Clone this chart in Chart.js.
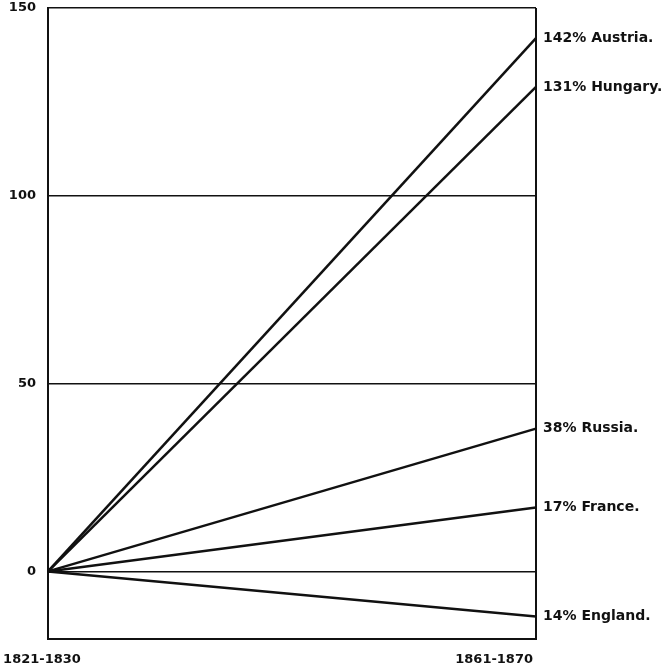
<!DOCTYPE html>
<html>
<head>
<meta charset="utf-8">
<script src="https://cdn.jsdelivr.net/npm/chart.js@4"></script>
<style>
  html, body { margin: 0; padding: 0; background: #fff; }
  #wrap { width: 667px; height: 667px; }
</style>
</head>
<body>
<div id="wrap"><canvas id="myChart"></canvas></div>
<script>
// periods on the x axis
const periods = ["1821-1830", "1861-1870"];
// countries, and where each line ends in the second period
const countries = ["Austria", "Hungary", "Russia", "France", "England"];
const startValues = [0, 0, 0, 0, 0];
const endValues = [142, 129, 38, 17, -12];
// the printed percentages next to each line
const percentLabels = ["142%", "131%", "38%", "17%", "14%"];
// y tick labels
const yTicks = [0, 50, 100, 150];

const ink = "#111";

// right-hand labels + period labels under the frame
const labelsPlugin = {
	id: "sideLabels",
	afterDraw(chart) {
		const ctx = chart.ctx;
		const x = chart.scales.x;
		const y = chart.scales.y;
		const area = chart.chartArea;
		ctx.save();
		ctx.fillStyle = ink;
		ctx.textBaseline = "middle";
		ctx.font = "bold 14px 'DejaVu Sans'";
		ctx.textAlign = "left";
		countries.forEach(function (c, i) {
			ctx.fillText(percentLabels[i] + " " + c + ".", area.right + 7, y.getPixelForValue(endValues[i]));
		});
		ctx.font = "bold 13px 'DejaVu Sans'";
		ctx.textAlign = "center";
		ctx.fillText(periods[0], x.getPixelForValue(0) - 6, 660);
		ctx.textAlign = "right";
		ctx.fillText(periods[1], x.getPixelForValue(1) - 3, 660);
		ctx.restore();
	},
};

const ctx = document.getElementById("myChart").getContext("2d");

const myChart = new Chart(ctx, {
	type: "line",
	data: {
		labels: periods,
		datasets: countries.map(function (c, i) {
			return {
				label: c,
				data: [startValues[i], endValues[i]],
				borderColor: ink,
				borderWidth: 2.5,
				pointRadius: 0,
				tension: 0,
			};
		}),
	},
	options: {
		responsive: true,
		maintainAspectRatio: false,
		animation: false,
		layout: {
			padding: { top: 8, right: 131, bottom: 28, left: 0 },
		},
		plugins: {
			legend: { display: false },
			tooltip: { enabled: false },
		},
		scales: {
			x: {
				type: "category",
				offset: false,
				ticks: { display: false },
				grid: { display: true, color: ink, lineWidth: 2, drawTicks: false },
				border: { display: true, color: ink, width: 2 },
			},
			y: {
				min: -18,
				max: 150,
				afterBuildTicks: function (axis) {
					axis.ticks = yTicks.map(function (v) { return { value: v }; });
				},
				afterFit: function (axis) {
					axis.width = 48;
					axis.paddingTop = 0;
					axis.paddingBottom = 0;
				},
				ticks: {
					color: ink,
					padding: 12,
					font: { family: "'DejaVu Sans'", size: 13, weight: "bold" },
				},
				grid: { color: ink, lineWidth: 1.5, drawTicks: false },
				border: { display: true, color: ink, width: 2 },
			},
		},
	},
	plugins: [labelsPlugin],
});
</script>
</body>
</html>
